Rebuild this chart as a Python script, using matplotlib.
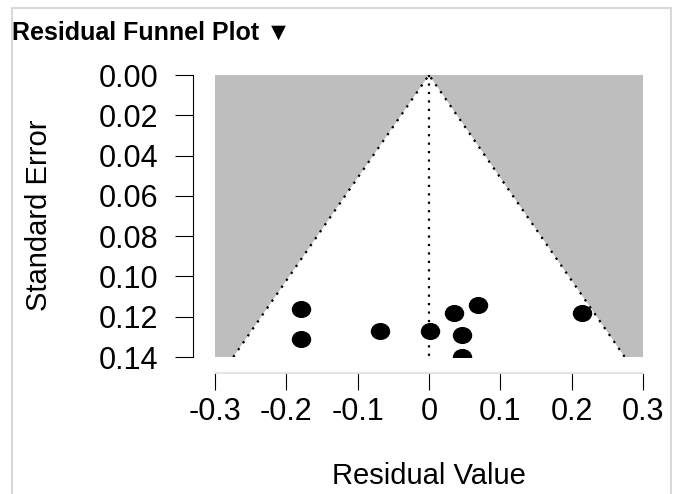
import numpy as np
import matplotlib.pyplot as plt
from matplotlib.path import Path
from matplotlib.transforms import Affine2D
from matplotlib.patches import Rectangle

plt.rcParams['font.family'] = ['Liberation Sans', 'DejaVu Sans']

## DATOS

residuos = [-0.180, -0.180, -0.068, 0.001, 0.035, 0.068, 0.046, 0.046, 0.215]
error_std = [0.116, 0.131, 0.127, 0.127, 0.118, 0.114, 0.129, 0.140, 0.118]

x_ticks = [-0.3, -0.2, -0.1, 0, 0.1, 0.2, 0.3]
x_labels = ["-0.3", "-0.2", "-0.1", "0", "0.1", "0.2", "0.3"]
y_ticks = [0.00, 0.02, 0.04, 0.06, 0.08, 0.10, 0.12, 0.14]
y_labels = ["0.00", "0.02", "0.04", "0.06", "0.08", "0.10", "0.12", "0.14"]

se_max = 0.14
z = 1.96
gris = "#bebebe"
punteado = (0, (1, 2.8))

## FIGURA

fig = plt.figure(figsize=(6.77, 4.94), dpi=100)
ax = fig.add_axes([215 / 677, 1 - 357 / 494, 428 / 677, 282 / 494])

# zona fuera del embudo
lim = z * se_max
ax.fill([-0.3, 0, -lim, -0.3], [0, 0, se_max, se_max], color=gris, lw=0)
ax.fill([0.3, 0, lim, 0.3], [0, 0, se_max, se_max], color=gris, lw=0)

# lineas del embudo
ax.plot([-lim, 0, lim], [se_max, 0, se_max], color="black", ls=punteado, lw=1.6)
ax.plot([0, 0], [0, se_max], color="black", ls=punteado, lw=1.6)

# puntos (algo ovalados)
ovalo = Path.unit_circle().transformed(Affine2D().scale(1.15, 1.0))
ax.plot(residuos, error_std, ls="none", marker=ovalo, ms=13, color="black")

ax.set_xlim(-0.3, 0.3)
ax.set_ylim(se_max, 0)

ax.set_xticks(x_ticks)
ax.set_xticklabels(x_labels)
ax.set_yticks(y_ticks)
ax.set_yticklabels(y_labels)

for s in ["top", "right"]:
    ax.spines[s].set_visible(False)
ax.spines["left"].set_position(("outward", 15.8))
ax.spines["left"].set_bounds(0, se_max)
ax.spines["left"].set_linewidth(0.8)
ax.spines["bottom"].set_position(("outward", 11.5))
ax.spines["bottom"].set_bounds(-0.3, 0.3)
ax.spines["bottom"].set_color("#e4e4e4")
ax.spines["bottom"].set_linewidth(1.5)

ax.tick_params(axis="y", length=13, width=0.8, pad=12, labelsize=22)
ax.tick_params(axis="x", length=12, width=0.8, pad=5, labelsize=22, color="black")

fig.text(39 / 677, 1 - 215 / 494, "Standard Error", rotation=90,
         ha="center", va="center", fontsize=21)
fig.text(429 / 677, 1 - 476 / 494, "Residual Value",
         ha="center", va="center", fontsize=21)

fig.text(12 / 677, 1 - 33 / 494, "Residual Funnel Plot \u25bc",
         ha="left", va="center", fontsize=18, fontweight="bold")

# marco
fig.patches.append(Rectangle((12 / 677, -0.05), 659 / 677, 1.05 - 8 / 494,
                             transform=fig.transFigure, fill=False,
                             ec="#d9d9d9", lw=1.5))

fig.savefig("out.png", dpi=100)
